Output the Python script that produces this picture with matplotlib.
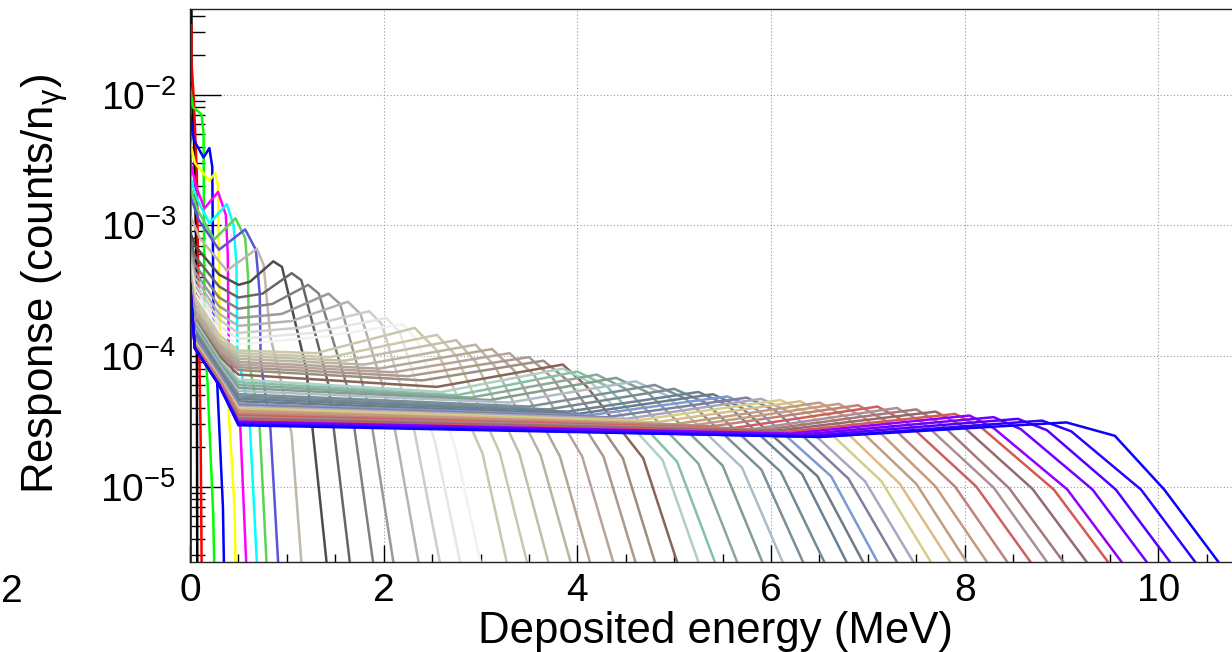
import numpy as np
import matplotlib
matplotlib.use('Agg')
import matplotlib.pyplot as plt
from matplotlib.ticker import LogLocator, MultipleLocator, LogFormatterSciNotation, NullFormatter

plt.rcParams['font.family'] = ['Liberation Sans', 'DejaVu Sans']
plt.rcParams['mathtext.fontset'] = 'custom'
plt.rcParams['mathtext.rm'] = 'Liberation Sans'
plt.rcParams['mathtext.it'] = 'Liberation Sans:italic'
plt.rcParams['mathtext.default'] = 'regular'

# all responses are given in units of 1e-5 counts per photon
FLOOR = 0.1    # below the lower edge of the plot
EDGE = 0.265   # value where a curve meets the lower edge

# --- low energy responses (ROOT colours 1-9, 11), read point by point
low_x = [
    [0, 0, 0.015, 0.015, 0.04, 0.06, 0.07, 0.075],
    [0, 0, 0.015, 0.015, 0.04, 0.07, 0.10, 0.11, 0.12],
    [0, 0, 0.03, 0.08, 0.12, 0.14, 0.15, 0.18, 0.24, 0.25],
    [0, 0, 0.04, 0.14, 0.20, 0.23, 0.245, 0.28, 0.34, 0.35],
    [0, 0, 0.05, 0.20, 0.26, 0.29, 0.31, 0.39, 0.46, 0.47],
    [0, 0, 0.06, 0.15, 0.29, 0.37, 0.39, 0.40, 0.47, 0.52, 0.58],
    [0, 0, 0.07, 0.20, 0.38, 0.45, 0.48, 0.49, 0.56, 0.62, 0.69],
    [0, 0, 0.08, 0.25, 0.47, 0.57, 0.60, 0.61, 0.66, 0.72, 0.79],
    [0, 0, 0.09, 0.30, 0.57, 0.68, 0.72, 0.73, 0.78, 0.83, 0.91],
    [0, 0, 0.10, 0.38, 0.69, 0.76, 0.83, 0.95, 1.05, 1.15],
]
low_y = [
    [FLOOR, 4500, 4500, 1200, 500, 100, 20, EDGE],
    [FLOOR, 3400, 3400, 1800, 900, 250, 7, 2.3, EDGE],
    [FLOOR, 1150, 800, 750, 700, 500, 12, 6.4, 0.6, EDGE],
    [FLOOR, 720, 450, 330, 390, 280, 11, 6.4, 0.7, EDGE],
    [FLOOR, 440, 300, 220, 250, 200, 13, 4.8, 0.7, EDGE],
    [FLOOR, 320, 200, 135, 180, 120, 60, 11, 6, 2.8, EDGE],
    [FLOOR, 240, 160, 104, 145, 100, 50, 10, 6, 2.8, EDGE],
    [FLOOR, 200, 130, 78, 113, 80, 40, 9, 5.5, 2.8, EDGE],
    [FLOOR, 170, 110, 65, 93, 65, 30, 9, 5, 2.8, EDGE],
    [FLOOR, 120, 80, 45, 66, 50, 14, 6, 2.5, EDGE],
]

# --- higher energy responses (ROOT colours 12-55)
early_x = [0.05, 0.3, 0.5]
y_first = [90, 80, 70, 65, 60, 55, 52, 50, 48, 46, 44, 42, 41, 40, 39, 38, 37,
           37, 36, 36, 36, 36, 36, 36, 36, 36, 36, 36, 36, 36, 36, 36, 36, 36,
           36, 36, 36, 36, 36, 36, 36, 36, 36, 36]
y_e1 = [70, 58, 50, 44, 40, 36, 33, 30, 28, 26, 24, 23, 22, 21, 20, 19.5, 19,
        18.5, 18, 17.5, 17, 16.5, 16, 15.5, 15, 14.5, 14, 13.5, 13, 13, 12.5,
        12.5, 12, 12, 12, 11.5, 11.5, 11.5, 11.5, 11.5, 11.5, 11.5, 11.5, 11.5]
y_e2 = [42, 34, 28, 24, 21, 19, 17, 15.5, 14.5, 13.5, 13, 12.5, 12, 11.5, 11,
        10.5, 10, 9.5, 9.2, 9.0, 8.8, 8.5, 8.2, 8.0, 7.8, 7.6, 7.4, 7.2, 7.0,
        6.9, 6.8, 6.7, 6.6, 6.5, 6.4, 6.3, 6.2, 6.1, 6.0, 6.0, 6.0, 6.0, 6.0, 6.0]
y_dip = [35, 28, 23, 19.5, 17, 15, 13.5, 12.2, 11, 10.5, 10, 9.5, 9.0, 8.6,
         8.2, 7.8, 7.2, 6.6, 6.3, 6.0, 5.7, 5.4, 5.1, 4.9, 4.7, 4.5, 4.3, 4.2,
         4.1, 4.0, 3.9, 3.8, 3.7, 3.6, 3.5, 3.4, 3.35, 3.3, 3.2, 3.15, 3.1,
         3.05, 3.0, 2.95]
mid_x = [0.62, 0.75, 0.85, 0.95, 1.05, 1.15, 1.25, 1.35, 1.3, 1.45, 1.6, 1.8,
         1.95, 2.1, 2.25, 2.4, 2.55, 2.6, 2.75, 2.9, 3.1, 3.3, 3.5, 3.7, 3.9,
         4.0, 4.1, 4.3, 4.5, 4.6, 4.8, 5.0, 5.2, 5.4, 5.6, 5.8, 5.9, 6.0, 6.1,
         6.2, 6.3, 6.4, 6.5, 6.5]
mid_y = [37, 30, 25, 21, 18.5, 16.5, 15, 14, 10.5, 9.8, 9.2, 8.6, 8.0, 7.5,
         7.0, 6.5, 5.8, 5.3, 5.0, 4.8, 4.6, 4.4, 4.1, 3.9, 3.75, 3.6, 3.5, 3.4,
         3.3, 3.2, 3.1, 3.0, 2.95, 2.9, 2.8, 2.75, 2.7, 2.65, 2.6, 2.55, 2.5,
         2.45, 2.4, 2.4]
edge_x = [0.86, 1.05, 1.22, 1.43, 1.63, 1.85, 2.03, 2.2, 2.32, 2.55, 2.75,
          2.95, 3.12, 3.3, 3.5, 3.65, 3.85, 3.85, 4.0, 4.2, 4.4, 4.6, 4.8, 5.0,
          5.25, 5.4, 5.55, 5.75, 5.9, 6.1, 6.3, 6.5, 6.7, 6.9, 7.1, 7.3, 7.5,
          7.7, 7.9, 8.05, 8.3, 8.55, 8.8, 9.05]
edge_y = [53, 43, 35, 30, 26, 22, 19.5, 17.5, 16.4, 14.5, 13.2, 12.2, 11.3,
          10.5, 9.8, 9.2, 8.6, 8.0, 7.6, 7.2, 6.8, 6.4, 6.0, 5.6, 5.3, 5.1, 4.9,
          4.8, 4.7, 4.6, 4.5, 4.4, 4.3, 4.2, 4.1, 4.0, 3.9, 3.75, 3.6, 3.5, 3.4,
          3.3, 3.2, 3.1]
sh_x = [0.95, 1.15, 1.33, 1.55, 1.76, 1.98, 2.17, 2.35, 2.55, 2.75, 2.95,
        3.15, 3.35, 3.55, 3.75, 3.92, 4.1, 4.15, 4.3, 4.5, 4.72, 4.92, 5.12,
        5.32, 5.55, 5.7, 5.85, 6.05, 6.2, 6.4, 6.6, 6.78, 6.98, 7.18, 7.4,
        7.58, 7.76, 7.98, 8.18, 8.3, 8.58, 8.85, 9.1, 9.55]
sh_y = [48, 38, 30, 25, 21, 17.5, 15, 13, 11, 10, 9, 8.3, 7.7, 7.2, 6.7, 6.3,
        5.8, 6.2, 5.9, 5.6, 5.3, 5.0, 4.7, 4.4, 4.2, 4.0, 3.9, 3.8, 3.7, 3.6,
        3.5, 3.4, 3.3, 3.2, 3.1, 3.05, 3.0, 2.9, 2.8, 2.8, 2.75, 2.7, 2.65, 2.45]
fall_x = [1.2, 1.43, 1.65, 1.85, 2.1, 2.32, 2.53, 2.74, 3.02, 3.2, 3.4, 3.62,
          3.82, 4.05, 4.27, 4.47, 4.68, 4.88, 5.03, 5.25, 5.5, 5.7, 5.9, 6.1,
          6.32, 6.48, 6.62, 6.8, 6.97, 7.14, 7.33, 7.5, 7.7, 7.9, 8.12, 8.3,
          8.46, 8.7, 8.92, 9.06, 9.32, 9.56, 9.82, 10.06]
fall_y = [8, 6, 5, 4, 3.2, 2.6, 2.2, 2.0, 1.8, 1.8, 1.8, 1.75, 1.7, 1.7, 1.7,
          1.65, 1.65, 1.6, 1.55, 1.5, 1.45, 1.4, 1.35, 1.3, 1.25, 1.2, 1.2,
          1.15, 1.1, 1.1, 1.05, 1.05, 1.0, 1.0, 1.0, 0.98, 0.97, 0.96, 0.95,
          0.95, 0.95, 0.95, 0.95, 0.95]
e_end = [1.41, 1.65, 1.89, 2.10, 2.36, 2.58, 2.79, 3.00, 3.27, 3.48, 3.70,
         3.93, 4.13, 4.37, 4.60, 4.80, 5.03, 5.25, 5.42, 5.65, 5.91, 6.12,
         6.33, 6.55, 6.78, 6.95, 7.10, 7.30, 7.47, 7.65, 7.85, 8.02, 8.23,
         8.44, 8.68, 8.85, 9.02, 9.26, 9.48, 9.62, 9.88, 10.12, 10.38, 10.62]

# ROOT colour table (indices 1-9, 11, then 12-55)
low_colors = [(0, 0, 0), (1, 0, 0), (0, 1, 0), (0, 0, 1), (1, 1, 0), (1, 0, 1),
              (0, 1, 1), (0.35, 0.83, 0.33), (0.35, 0.33, 0.85),
              (0.754, 0.715, 0.676)]
hi_colors = [(.3, .3, .3), (.4, .4, .4), (.5, .5, .5), (.6, .6, .6), (.7, .7, .7),
             (.8, .8, .8), (.9, .9, .9), (.95, .95, .95), (.8, .78, .67),
             (.8, .78, .67), (.76, .75, .66), (.73, .71, .64), (.70, .65, .59),
             (.72, .64, .61), (.68, .60, .55), (.61, .56, .51), (.53, .4, .34),
             (.69, .81, .78), (.52, .76, .64), (.54, .66, .63), (.51, .62, .55),
             (.68, .74, .78), (.48, .56, .6), (.46, .54, .57), (.41, .51, .59),
             (.43, .48, .52), (.49, .6, .82), (.5, .5, .61), (.67, .65, .75),
             (.83, .81, .53), (.87, .73, .53), (.74, .62, .51), (.78, .6, .49),
             (.75, .51, .47), (.81, .37, .38), (.67, .56, .58), (.65, .47, .48),
             (.58, .41, .44), (.83, .35, .33), (.57, 0, 1), (.45, 0, 1),
             (.33, 0, 1), (.2, 0, 1), (.05, 0, 1)]

fig = plt.figure(figsize=(12.32, 6.52), dpi=100)
ax = fig.add_axes([190 / 1232, 1 - 562 / 652, 1 - 190 / 1232, (562 - 9) / 652])

LW = 1.8
for xs, ys, c in zip(low_x, low_y, low_colors):
    ax.plot(xs + [xs[-1]], np.array(ys + [FLOOR]) * 1e-5, color=c, lw=LW)

for i in range(len(e_end)):
    xs = [0, 0] + early_x + [mid_x[i], edge_x[i], sh_x[i], fall_x[i], e_end[i], e_end[i]]
    ys = [FLOOR, y_first[i], y_e1[i], y_e2[i], y_dip[i], mid_y[i], edge_y[i],
          sh_y[i], fall_y[i], EDGE, FLOOR]
    ax.plot(xs, np.array(ys) * 1e-5, color=hi_colors[i], lw=LW)

ax.set_yscale('log')
ax.set_xlim(0, 10.76)
ax.set_ylim(2.65e-6, 0.0452)

ax.xaxis.set_major_locator(MultipleLocator(2))
ax.xaxis.set_minor_locator(MultipleLocator(0.5))
ax.yaxis.set_major_locator(LogLocator(base=10))
ax.yaxis.set_minor_locator(LogLocator(base=10, subs=np.arange(2, 10)))
ax.yaxis.set_major_formatter(LogFormatterSciNotation())
ax.yaxis.set_minor_formatter(NullFormatter())

ax.tick_params(axis='both', which='both', direction='in', labelsize=28, colors='black')
ax.tick_params(axis='y', which='major', length=22, width=1, pad=10)
ax.tick_params(axis='y', which='minor', length=11, width=1)
ax.tick_params(axis='x', which='major', length=12, width=1, pad=8)
ax.tick_params(axis='x', which='minor', length=6, width=1)
ax.tick_params(top=False, right=False)

ax.grid(True, which='major', color='#999999', lw=0.8, linestyle=(0, (1, 2)))
ax.set_axisbelow(True)
ax.spines['right'].set_visible(False)
for s in ['left', 'top', 'bottom']:
    ax.spines[s].set_linewidth(1.0)
    ax.spines[s].set_color('#222222')

fig.text(715 / 1232, 1 - 643 / 652, 'Deposited energy (MeV)', fontsize=31.5,
         ha='center', va='baseline')
fig.text(45 / 1232, 1 - 284 / 652, r'Response (counts/n$_{\gamma}$)', fontsize=31.5,
         rotation=90, ha='center', va='center')
fig.text(1 / 1232, 1 - 602 / 652, '2', fontsize=28, ha='left', va='baseline')

fig.savefig('out.png', dpi=100)
